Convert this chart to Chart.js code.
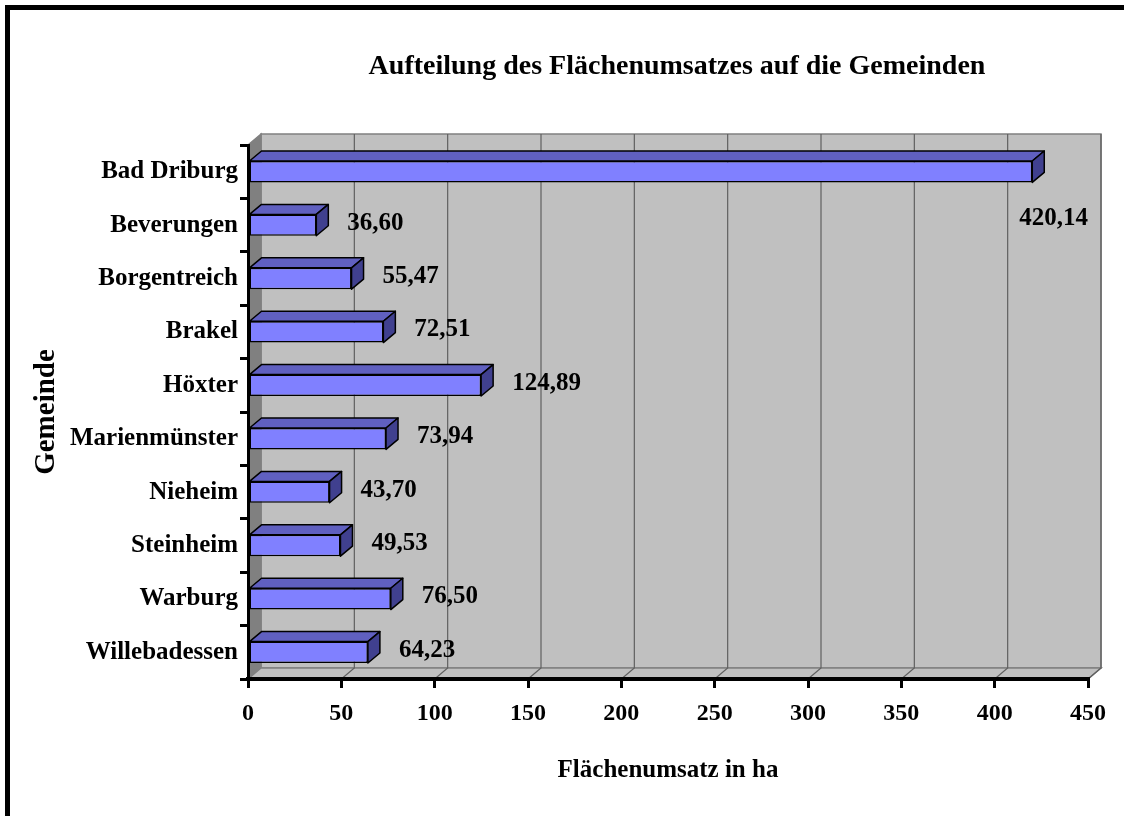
<!DOCTYPE html>
<html>
<head>
<meta charset="utf-8">
<script src="https://cdn.jsdelivr.net/npm/chart.js@4/dist/chart.umd.min.js"></script>
<style>
  html, body { margin: 0; padding: 0; background: #fff; }
  canvas { display: block; }
</style>
</head>
<body>
<canvas id="areaChart" width="1124" height="816"></canvas>
<script>
// Data
const gemeinden = ['Bad Driburg', 'Beverungen', 'Borgentreich', 'Brakel', 'Höxter',
  'Marienmünster', 'Nieheim', 'Steinheim', 'Warburg', 'Willebadessen'];
const flaechenumsatz = [420.14, 36.60, 55.47, 72.51, 124.89, 73.94, 43.70, 49.53, 76.50, 64.23];
const xMin = 0;
const xMax = 450;
const xStep = 50;

const chartTitle = 'Aufteilung des Flächenumsatzes auf die Gemeinden';
const xTitle = 'Flächenumsatz in ha';
const yTitle = 'Gemeinde';

const FONT = '"Liberation Serif", "Times New Roman", serif';
const WALL_DX = 13, WALL_DY = 11;   // depth of the 3d walls
const BAR_DX = 12, BAR_DY = 10;     // depth of the 3d bars

// German number format
function fmt(v) {
    return v.toFixed(2).replace('.', ',');
}

// Frame, title and the grey 3d walls behind the bars
const wallsPlugin = {
    id: 'walls',
    beforeDraw(chart) {
        const ctx = chart.ctx;
        const { left, right, top, bottom } = chart.chartArea;
        const xs = chart.scales.x;

        ctx.save();
        ctx.fillStyle = '#fff';
        ctx.fillRect(0, 0, chart.width, chart.height);

        // outer frame
        ctx.strokeStyle = '#000';
        ctx.lineWidth = 5;
        ctx.strokeRect(7.5, 7.5, chart.width, chart.height);

        // title
        ctx.fillStyle = '#000';
        ctx.font = 'bold 28px ' + FONT;
        ctx.textAlign = 'center';
        ctx.textBaseline = 'middle';
        ctx.fillText(chartTitle, 677, 67);

        // back wall
        ctx.fillStyle = '#c0c0c0';
        ctx.strokeStyle = '#808080';
        ctx.lineWidth = 1.5;
        ctx.fillRect(left + WALL_DX, top - WALL_DY, right - left, bottom - top);
        ctx.strokeRect(left + WALL_DX, top - WALL_DY, right - left, bottom - top);

        // left wall
        ctx.fillStyle = '#808080';
        ctx.beginPath();
        ctx.moveTo(left, top);
        ctx.lineTo(left + WALL_DX, top - WALL_DY);
        ctx.lineTo(left + WALL_DX, bottom - WALL_DY);
        ctx.lineTo(left, bottom);
        ctx.closePath();
        ctx.fill();
        ctx.stroke();

        // floor
        ctx.fillStyle = '#c0c0c0';
        ctx.beginPath();
        ctx.moveTo(left, bottom);
        ctx.lineTo(left + WALL_DX, bottom - WALL_DY);
        ctx.lineTo(right + WALL_DX, bottom - WALL_DY);
        ctx.lineTo(right, bottom);
        ctx.closePath();
        ctx.fill();
        ctx.stroke();

        // grid lines on the back wall and floor
        ctx.strokeStyle = '#606060';
        ctx.lineWidth = 1.2;
        for (let v = xMin + xStep; v <= xMax; v += xStep) {
            const px = xs.getPixelForValue(v);
            ctx.beginPath();
            ctx.moveTo(px + WALL_DX, top - WALL_DY);
            ctx.lineTo(px + WALL_DX, bottom - WALL_DY);
            ctx.lineTo(px, bottom);
            ctx.stroke();
        }
        ctx.restore();
    }
};

// Top and side faces of the bars plus the value labels
const barsPlugin = {
    id: 'bars3d',
    afterDatasetsDraw(chart) {
        const ctx = chart.ctx;
        const meta = chart.getDatasetMeta(0);
        const area = chart.chartArea;
        ctx.save();
        ctx.strokeStyle = '#000';
        ctx.lineWidth = 1.5;
        ctx.lineJoin = 'round';
        meta.data.forEach((bar, i) => {
            const p = bar.getProps(['x', 'y', 'base', 'height'], true);
            const yTop = p.y - p.height / 2;
            const yBot = p.y + p.height / 2;

            ctx.fillStyle = '#6060c0';
            ctx.beginPath();
            ctx.moveTo(p.base, yTop);
            ctx.lineTo(p.base + BAR_DX, yTop - BAR_DY);
            ctx.lineTo(p.x + BAR_DX, yTop - BAR_DY);
            ctx.lineTo(p.x, yTop);
            ctx.closePath();
            ctx.fill();
            ctx.stroke();

            ctx.fillStyle = '#40408f';
            ctx.beginPath();
            ctx.moveTo(p.x, yTop);
            ctx.lineTo(p.x + BAR_DX, yTop - BAR_DY);
            ctx.lineTo(p.x + BAR_DX, yBot - BAR_DY);
            ctx.lineTo(p.x, yBot);
            ctx.closePath();
            ctx.fill();
            ctx.stroke();

            // value label
            const txt = fmt(flaechenumsatz[i]);
            ctx.font = 'bold 25px ' + FONT;
            ctx.fillStyle = '#000';
            ctx.textBaseline = 'middle';
            ctx.textAlign = 'left';
            const w = ctx.measureText(txt).width;
            let lx = p.x + 31;
            let ly = p.y - 2;
            if (lx + w > area.right) {
                // no room on the right: put it under the bar end
                lx = area.right - w;
                ly = p.y + 47;
            }
            ctx.fillText(txt, lx, ly);
        });
        ctx.restore();
    }
};

const ctx = document.getElementById('areaChart').getContext('2d');
new Chart(ctx, {
    type: 'bar',
    data: {
        labels: gemeinden,
        datasets: [{
            data: flaechenumsatz,
            backgroundColor: '#8080ff',
            borderColor: '#000',
            borderWidth: 1.5,
            borderSkipped: false,
            categoryPercentage: 1,
            barPercentage: 0.4
        }]
    },
    options: {
        indexAxis: 'y',
        responsive: false,
        animation: false,
        layout: { padding: { left: 0, top: 145, right: 36, bottom: 0 } },
        plugins: {
            legend: { display: false },
            title: { display: false },
            tooltip: { enabled: false }
        },
        scales: {
            x: {
                min: xMin,
                max: xMax,
                afterFit: s => { s.height = 137; },
                ticks: {
                    stepSize: xStep,
                    padding: 11,
                    color: '#000',
                    font: { family: FONT, size: 24, weight: 'bold' }
                },
                grid: {
                    drawOnChartArea: false,
                    drawTicks: true,
                    tickLength: 9,
                    lineWidth: 3,
                    color: '#000'
                },
                border: { display: true, color: '#000', width: 4 },
                title: {
                    display: true,
                    text: xTitle,
                    color: '#000',
                    font: { family: FONT, size: 25, weight: 'bold' },
                    padding: { top: 0, bottom: 30 }
                }
            },
            y: {
                afterFit: s => { s.width = 248; },
                ticks: {
                    padding: 2,
                    color: '#000',
                    font: { family: FONT, size: 25, weight: 'bold' }
                },
                grid: {
                    drawOnChartArea: false,
                    drawTicks: true,
                    tickLength: 8,
                    lineWidth: 3,
                    color: '#000'
                },
                border: { display: true, color: '#000', width: 3 },
                title: {
                    display: true,
                    text: yTitle,
                    color: '#000',
                    font: { family: FONT, size: 29, weight: 'bold' },
                    padding: { top: 29, bottom: 0 }
                }
            }
        }
    },
    plugins: [wallsPlugin, barsPlugin]
});
</script>
</body>
</html>
